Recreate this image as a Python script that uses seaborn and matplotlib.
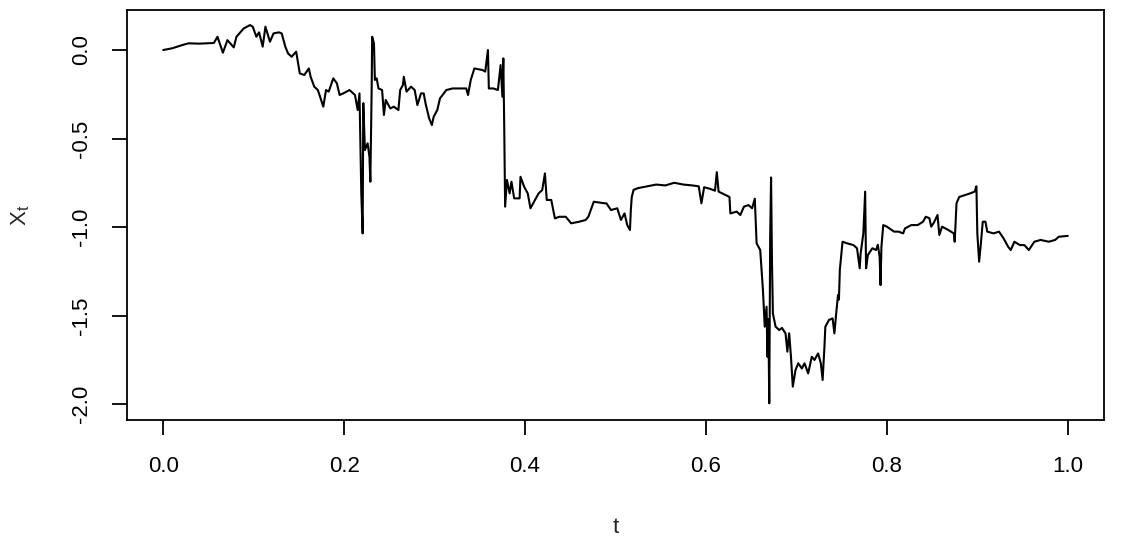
import numpy as np
import pandas as pd
import seaborn as sns
import matplotlib.pyplot as plt

# sample path
t_vals = [0.000, 0.010, 0.021, 0.028, 0.040, 0.056, 0.060, 0.066, 0.071, 0.078,
          0.081, 0.089, 0.096, 0.099, 0.103, 0.106, 0.110, 0.113, 0.118, 0.122,
          0.128, 0.131, 0.135, 0.138, 0.142, 0.147, 0.151, 0.156, 0.161, 0.163,
          0.167, 0.171, 0.174, 0.177, 0.180, 0.183, 0.188, 0.192, 0.195, 0.199,
          0.206, 0.212, 0.215, 0.217, 0.219, 0.2205, 0.2212, 0.223, 0.226, 0.228,
          0.229, 0.2305, 0.231, 0.233, 0.234, 0.236, 0.238, 0.242, 0.244, 0.246,
          0.251, 0.255, 0.260, 0.262, 0.265, 0.266, 0.269, 0.274, 0.278, 0.281,
          0.285, 0.288, 0.290, 0.294, 0.297, 0.299, 0.303, 0.306, 0.313, 0.320,
          0.335, 0.337, 0.340, 0.344, 0.353, 0.356, 0.359, 0.360, 0.365, 0.370,
          0.373, 0.375, 0.376, 0.377, 0.378, 0.380, 0.383, 0.385, 0.388, 0.394,
          0.395, 0.399, 0.403, 0.406, 0.410, 0.415, 0.419, 0.422, 0.424, 0.429,
          0.433, 0.438, 0.445, 0.451, 0.460, 0.467, 0.470, 0.476, 0.488, 0.490,
          0.495, 0.502, 0.506, 0.510, 0.513, 0.516, 0.517, 0.518, 0.520, 0.525,
          0.535, 0.545, 0.555, 0.565, 0.575, 0.585, 0.592, 0.595, 0.598, 0.605,
          0.610, 0.612, 0.614, 0.620, 0.626, 0.627, 0.634, 0.638, 0.642, 0.647,
          0.651, 0.654, 0.655, 0.656, 0.660, 0.661, 0.663, 0.665, 0.667, 0.668,
          0.669, 0.670, 0.671, 0.672, 0.673, 0.674, 0.677, 0.681, 0.684, 0.688,
          0.690, 0.692, 0.694, 0.696, 0.699, 0.702, 0.706, 0.709, 0.713, 0.717,
          0.720, 0.724, 0.727, 0.729, 0.731, 0.732, 0.736, 0.740, 0.742, 0.744,
          0.746, 0.747, 0.748, 0.751, 0.756, 0.763, 0.767, 0.770, 0.771, 0.774,
          0.776, 0.777, 0.779, 0.784, 0.788, 0.790, 0.792, 0.793, 0.794, 0.796,
          0.800, 0.808, 0.813, 0.818, 0.820, 0.827, 0.834, 0.840, 0.843, 0.847,
          0.849, 0.852, 0.856, 0.858, 0.861, 0.868, 0.874, 0.875, 0.877, 0.880,
          0.886, 0.892, 0.897, 0.899, 0.900, 0.902, 0.904, 0.906, 0.909, 0.911,
          0.918, 0.924, 0.929, 0.934, 0.937, 0.941, 0.947, 0.952, 0.957, 0.963,
          0.970, 0.979, 0.986, 0.990, 1.000]
x_vals = [0.000, 0.010, 0.028, 0.038, 0.036, 0.040, 0.075, -0.015, 0.056, 0.015,
          0.075, 0.122, 0.141, 0.132, 0.075, 0.100, 0.019, 0.132, 0.047, 0.094,
          0.100, 0.094, 0.019, -0.019, -0.038, -0.009, -0.132, -0.141, -0.104, -0.151,
          -0.207, -0.226, -0.273, -0.320, -0.226, -0.235, -0.160, -0.188, -0.254, -0.245,
          -0.226, -0.254, -0.339, -0.245, -0.810, -1.036, -0.300, -0.565, -0.527, -0.603,
          -0.744, -0.207, 0.075, 0.038, -0.169, -0.160, -0.217, -0.226, -0.367, -0.282,
          -0.330, -0.320, -0.339, -0.226, -0.198, -0.151, -0.235, -0.207, -0.226, -0.311,
          -0.245, -0.245, -0.301, -0.386, -0.424, -0.377, -0.339, -0.273, -0.226, -0.217,
          -0.217, -0.254, -0.169, -0.104, -0.113, -0.122, 0.000, -0.217, -0.217, -0.226,
          -0.085, -0.264, -0.047, -0.433, -0.885, -0.734, -0.810, -0.744, -0.838, -0.838,
          -0.716, -0.772, -0.810, -0.894, -0.857, -0.810, -0.791, -0.697, -0.847, -0.847,
          -0.951, -0.942, -0.942, -0.979, -0.970, -0.960, -0.942, -0.857, -0.866, -0.866,
          -0.904, -0.894, -0.960, -0.923, -0.989, -1.017, -0.900, -0.830, -0.790, -0.780,
          -0.770, -0.760, -0.765, -0.750, -0.760, -0.765, -0.770, -0.866, -0.775, -0.785,
          -0.795, -0.690, -0.800, -0.815, -0.830, -0.923, -0.913, -0.932, -0.885, -0.876,
          -0.894, -0.840, -0.960, -1.092, -1.130, -1.205, -1.356, -1.563, -1.450, -1.733,
          -1.520, -1.996, -1.055, -0.720, -1.200, -1.488, -1.563, -1.582, -1.570, -1.601,
          -1.704, -1.600, -1.733, -1.902, -1.808, -1.770, -1.799, -1.770, -1.827, -1.733,
          -1.751, -1.714, -1.770, -1.864, -1.676, -1.563, -1.525, -1.516, -1.601, -1.488,
          -1.384, -1.410, -1.243, -1.083, -1.092, -1.102, -1.120, -1.233, -1.150, -1.036,
          -0.800, -1.233, -1.158, -1.120, -1.130, -1.100, -1.168, -1.328, -1.111, -0.989,
          -0.998, -1.026, -1.026, -1.036, -1.008, -0.989, -0.989, -0.970, -0.942, -0.950,
          -0.998, -0.975, -0.932, -1.045, -0.998, -1.017, -1.036, -1.083, -0.866, -0.830,
          -0.820, -0.810, -0.800, -0.770, -1.036, -1.196, -1.090, -0.970, -0.970, -1.026,
          -1.036, -1.026, -1.064, -1.111, -1.130, -1.083, -1.102, -1.102, -1.130, -1.083,
          -1.073, -1.083, -1.073, -1.055, -1.050]

x_ticks = [0.0, 0.2, 0.4, 0.6, 0.8, 1.0]
y_ticks = [-2.0, -1.5, -1.0, -0.5, 0.0]

sns.set_theme(style="ticks")
plt.rcParams['font.family'] = ['Liberation Sans', 'DejaVu Sans']
plt.rcParams['mathtext.fontset'] = 'custom'
plt.rcParams['mathtext.rm'] = 'Liberation Sans'
plt.rcParams['mathtext.default'] = 'regular'
plt.rcParams['axes.unicode_minus'] = False

df = pd.DataFrame({'t': t_vals, 'X': x_vals})

fig = plt.figure(figsize=(11.25, 5.44), dpi=100)
# R-style plot box
ax = fig.add_axes([0.1129, 0.2279, 0.8684, 0.7529])

sns.lineplot(data=df, x='t', y='X', sort=False, estimator=None,
             color='black', linewidth=1.5, ax=ax)

ax.set_xlim(-0.04, 1.04)
ax.set_ylim(-2.0904, 0.2237)
ax.set_xticks(x_ticks)
ax.set_xticklabels([f"{v:.1f}" for v in x_ticks])
ax.set_yticks(y_ticks)
ax.set_yticklabels([f"{v:.1f}" for v in y_ticks], rotation=90, va='center')
ax.tick_params(axis='both', length=11, width=1.3, color='black',
               labelsize=16, labelcolor='black')
ax.tick_params(axis='x', pad=15)
ax.tick_params(axis='y', pad=14)

for s in ['left', 'top', 'bottom', 'right']:
    ax.spines[s].set_linewidth(1.3)
    ax.spines[s].set_color('black')

ax.set_xlabel('t', fontsize=16, labelpad=29)
ax.set_ylabel('$X_t$', fontsize=16, labelpad=28)
ax.grid(False)

fig.savefig('out.png', dpi=100)
